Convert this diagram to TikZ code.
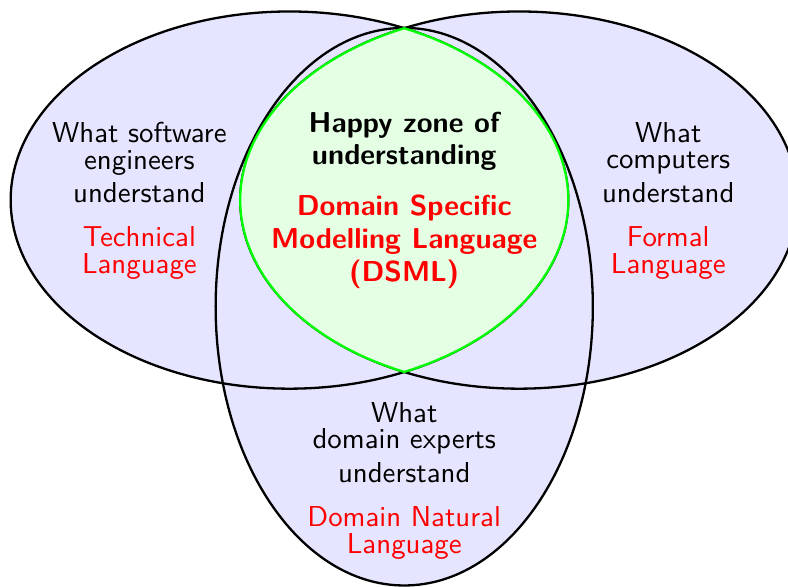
\documentclass[tikz,border=0pt]{standalone}
\usepackage{tikz}
\usetikzlibrary{calc, positioning}

\begin{document}
\begin{tikzpicture}[node distance=7.8pt,
    setfill/.style={fill=blue!10},
    happy/.style={fill=green!10, draw=green, thick},
    who/.style={align=center, inner sep=0pt, font=\sffamily\fontsize{10}{9.2}\selectfont},
    lang/.style={who, text=red},
    zone/.style={align=center, inner sep=0pt, font=\sffamily\bfseries\fontsize{10}{11}\selectfont},
    dsml/.style={zone, text=red, font=\sffamily\bfseries\fontsize{10}{11.4}\selectfont}]
	\pgfmathsetmacro{\ang}{acos(1.4/3.4)}
	\useasboundingbox (-4.93,-4.71) rectangle (4.68,2.44);
	\clip (-4.93,-4.71) rectangle (4.68,2.44);
	
	% Sets
	\fill[setfill] (-1.4,0) ellipse [x radius=3.4, y radius=2.3];
	\fill[setfill] (1.4,0) ellipse [x radius=3.4, y radius=2.3];
	\fill[setfill] (0,-1.3) ellipse [x radius=2.3, y radius=3.4];
	\draw[thick] (-1.4,0) ellipse [x radius=3.4, y radius=2.3];
	\draw[thick] (1.4,0) ellipse [x radius=3.4, y radius=2.3];
	\draw[thick] (0,-1.3) ellipse [x radius=2.3, y radius=3.4];
	
	% Happy zone
	\coordinate (lensTop) at (0,{2.3*sin(\ang)});
	\filldraw[happy] (lensTop)
		arc[start angle=\ang, end angle=-\ang, x radius=3.4, y radius=2.3]
		arc[start angle=180+\ang, end angle=180-\ang, x radius=3.4, y radius=2.3] -- cycle;
	
	% Labels
	\node[who, anchor=north] (engLabel) at (-3.23,0.955) {What software\\engineers\\[2.5pt]understand};
	\node[lang, below=of engLabel] (techLang) {Technical\\Language};
	\node[who, anchor=north] (compLabel) at (3.22,0.955) {What\\computers\\[2.5pt]understand};
	\node[lang, below=of compLabel] (formalLang) {Formal\\Language};
	\node[who, anchor=north] (expLabel) at (0,-2.46) {What\\domain experts\\[2.5pt]understand};
	\node[lang, below=of expLabel] (naturalLang) {Domain Natural\\Language};
	\node[zone, anchor=north] (zoneLabel) at (0,1.077) {Happy zone of\\understanding};
	\node[dsml, below=8.2pt of zoneLabel] (dsmlLang) {Domain Specific\\Modelling Language\\(DSML)};
\end{tikzpicture}
\end{document}
